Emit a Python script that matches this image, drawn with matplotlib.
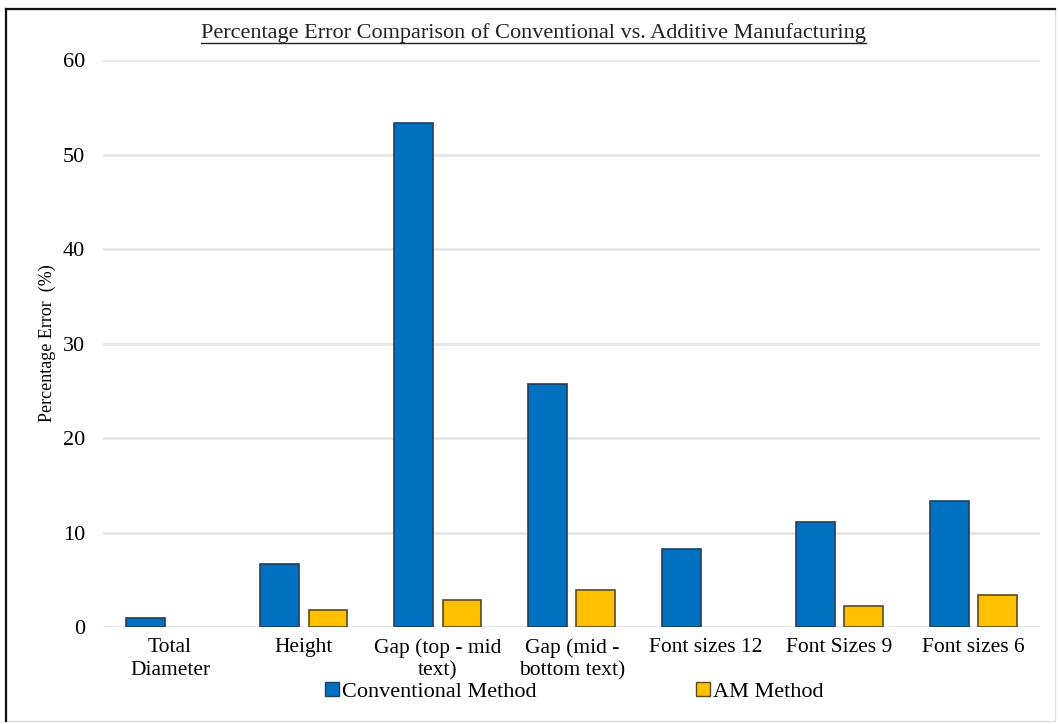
import matplotlib
matplotlib.use('Agg')
import matplotlib.pyplot as plt
import numpy as np
from matplotlib.lines import Line2D
from matplotlib.patches import Rectangle, Patch

categories = ['Total\nDiameter', 'Height', 'Gap (top - mid\ntext)', 'Gap (mid -\nbottom text)',
              'Font sizes 12', 'Font Sizes 9', 'Font sizes 6']
conventional = [0.95, 6.7, 53.3, 25.7, 8.3, 11.1, 13.3]
am_method = [0, 1.8, 2.85, 3.9, 0, 2.2, 3.35]
series_names = ['Conventional Method', 'AM Method']
yticks = [0, 10, 20, 30, 40, 50, 60]

colors = ['#0070C0', '#FFC000']
edges = ['#1f3f5f', '#5a4a1a']

plt.rcParams['font.family'] = ['Liberation Serif', 'DejaVu Serif']

fig = plt.figure(figsize=(10.58, 7.24), dpi=100)
ax = fig.add_axes([0.0974, 0.134, 0.886, 0.783])

x = np.arange(len(categories))
w = 0.29
gap = 0.07
b1 = ax.bar(x - (w + gap) / 2, conventional, w, color=colors[0], edgecolor=edges[0],
            linewidth=1.2, zorder=3)
b2 = ax.bar(x + (w + gap) / 2, am_method, w, color=colors[1], edgecolor=edges[1],
            linewidth=1.2, zorder=3)
# zero-height bars leave only an outline; hide them
for bars in (b1, b2):
    for p in bars.patches:
        if p.get_height() == 0:
            p.set_visible(False)

ax.set_xlim(-0.5, len(categories) - 0.5)
ax.set_ylim(0, 60)
ax.set_yticks(yticks)
ax.set_xticks(x)
ax.set_xticklabels(categories, fontsize=15.5)
for t in ax.get_xticklabels():
    t.set_linespacing(1.25)
ax.tick_params(axis='y', labelsize=16, length=0, pad=13)
ax.tick_params(axis='x', length=0, pad=8)
ax.grid(axis='y', color='#e6e6e6', linewidth=2, zorder=0)
for s in ax.spines.values():
    s.set_visible(False)

ax.set_ylabel('Percentage Error  (%)', fontsize=13, labelpad=5)

title = fig.text(0.504, 0.955, 'Percentage Error Comparison of Conventional vs. Additive Manufacturing',
                 ha='center', va='center', fontsize=16, color='#222222')

# underline under the title
fig.canvas.draw()
bb = title.get_window_extent().transformed(fig.transFigure.inverted())
fig.add_artist(Line2D([bb.x0, bb.x1], [bb.y0 - 0.001, bb.y0 - 0.001], color='#222222',
                      linewidth=1.0, transform=fig.transFigure))

handles = [Patch(facecolor=c, edgecolor=e, linewidth=1.0) for c, e in zip(colors, edges)]
fig.legend(handles, series_names, loc='center', bbox_to_anchor=(0.543, 0.044), ncol=2,
           frameon=False, fontsize=16, handlelength=0.6, handleheight=0.6,
           handletextpad=0.15, columnspacing=7.2)

# outer frame
fig.add_artist(Rectangle((0.006, 0.004), 0.991, 0.983, transform=fig.transFigure,
                         fill=False, edgecolor='#dddddd', linewidth=1.0))
fig.add_artist(Line2D([0.006, 0.006], [0.004, 0.987], color='#111111', linewidth=1.6,
                      transform=fig.transFigure))
fig.add_artist(Line2D([0.006, 0.997], [0.987, 0.987], color='#111111', linewidth=1.6,
                      transform=fig.transFigure))

fig.savefig('out.png', dpi=100)
